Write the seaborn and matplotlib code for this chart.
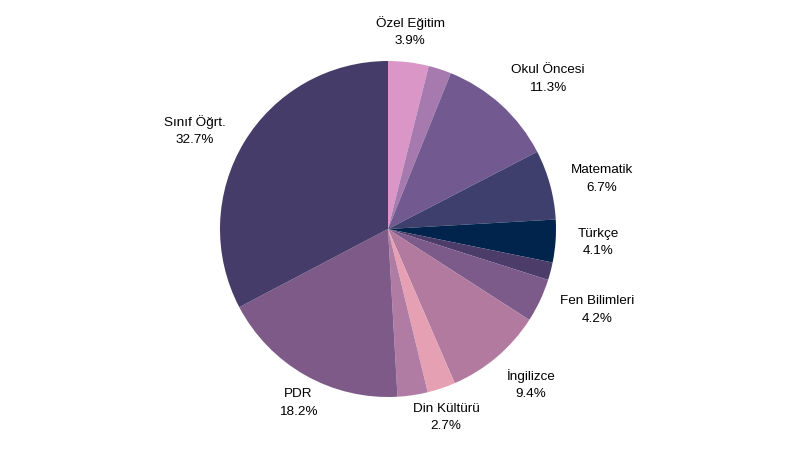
import numpy as np
import matplotlib
matplotlib.use("Agg")
import matplotlib.pyplot as plt
import seaborn as sns

# ---- data (percent shares, clockwise from 12 o'clock) ----
categories = ["Özel Eğitim", "", "Okul Öncesi", "Matematik", "Türkçe", "",
              "Fen Bilimleri", "İngilizce", "Din Kültürü", "", "PDR", "Sınıf Öğrt."]
values = [3.9, 2.2, 11.3, 6.7, 4.1, 1.7, 4.2, 9.4, 2.7, 2.9, 18.2, 32.7]
colors = ["#DB96C8", "#A67AAE", "#725A90", "#3E3F6C", "#01244D", "#4B3C69",
          "#7C5A8A", "#B27A9E", "#E6A0B4", "#B07CA4", "#7E5A88", "#463C6A"]

sns.set_theme(style="white")
plt.rcParams['font.family'] = ['Liberation Sans', 'DejaVu Sans']

W, H = 800, 450
cx, cy, R = 388, 229, 168  # pixel geometry of the pie

fig = plt.figure(figsize=(8, 4.5), dpi=100)
ax = fig.add_axes([0, 0, 1, 1])
wedges, _ = ax.pie(values, colors=colors, startangle=90, counterclock=False,
                   radius=1.0, wedgeprops=dict(linewidth=0))

ax.set_xlim(-cx / R, (W - cx) / R)
ax.set_ylim(-(H - cy) / R, cy / R)
ax.set_aspect('equal', adjustable='datalim')
ax.axis('off')

total = sum(values)
cum = 0.0
for name, v in zip(categories, values):
    mid = (cum + v / 2) / total * 2 * np.pi
    cum += v
    if not name:
        continue
    s, c = np.sin(mid), np.cos(mid)
    ha = 'left' if s > 0.5 else ('right' if s < -0.5 else 'center')
    va = 'bottom' if c > 0.6 else ('top' if c < -0.6 else 'center')
    r0 = 1.13 if va == 'center' else 1.09
    ax.text(r0 * s, r0 * c, f"{name}\n{v:.1f}%", ha=ha, va=va,
            multialignment='center', fontsize=9.7, color='#000000',
            linespacing=1.6)

fig.savefig("out.png", dpi=100)
